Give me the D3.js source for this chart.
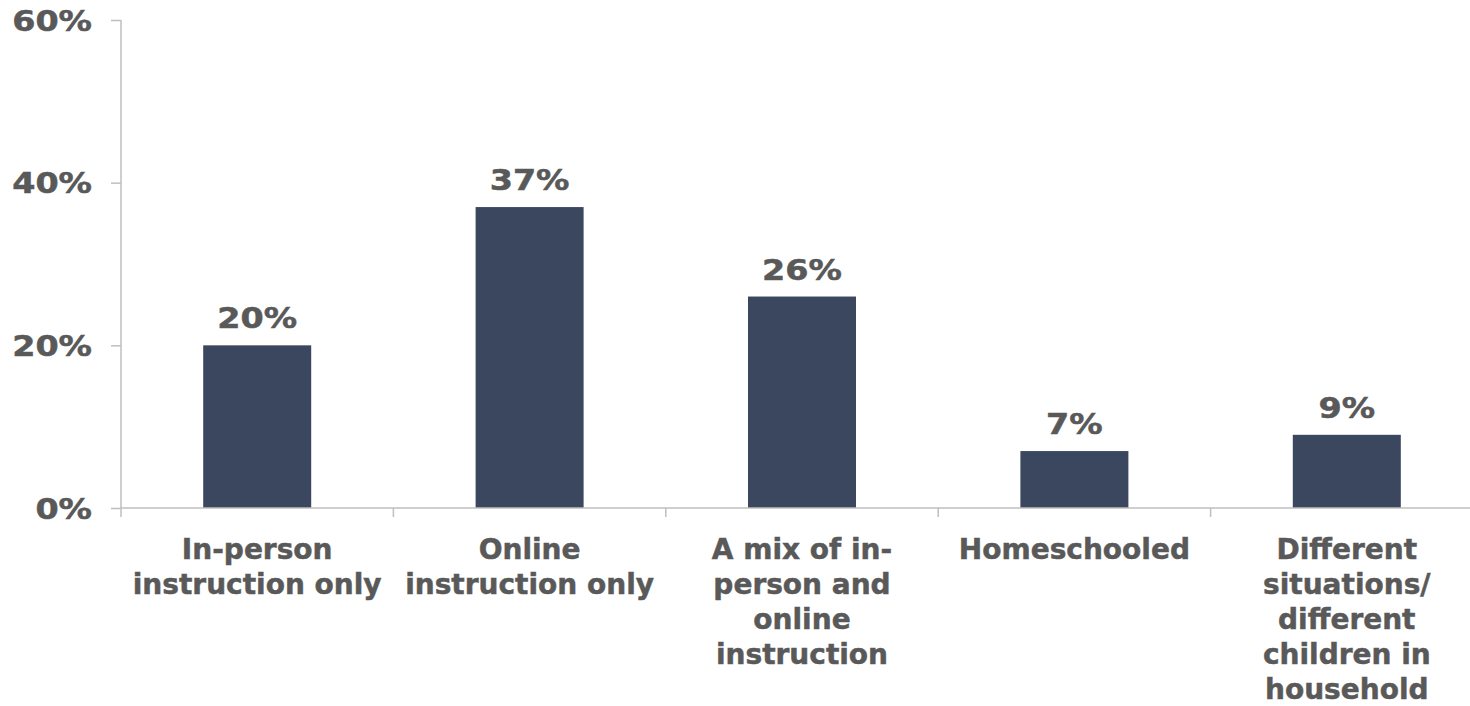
<!DOCTYPE html>
<html><head><meta charset="utf-8">
<script src="https://cdn.jsdelivr.net/npm/d3@7"></script>
<style>body{margin:0;background:#fff}svg{display:block}</style>
</head><body><svg id="c" width="1470" height="706"></svg>
<script>
const categories = ["In-person instruction only","Online instruction only","A mix of in-person and online instruction","Homeschooled","Different situations/ different children in household"];
const categoryLines = [["In-person","instruction only"],["Online","instruction only"],["A mix of in-","person and","online","instruction"],["Homeschooled"],["Different","situations/","different","children in","household"]];
const values = [20,37,26,7,9];
const yTicks = [0,20,40,60];

const svg = d3.select("#c");
const font = "'DejaVu Sans', Verdana, sans-serif";
const textColor = "#595959";
const x = d3.scaleBand().domain(categories).range([121, 121+5*272.4]).paddingInner(0).paddingOuter(0);
const y = d3.scaleLinear().domain([0,60]).range([508,20]);
const barW = 108;
const pctStretch = 1.19;

function heavy(sel){ sel.attr("stroke",textColor).attr("stroke-width",0.5); }
function stretch(sel){ sel.each(function(){ const w=this.getComputedTextLength(); d3.select(this).attr("textLength",w*pctStretch).attr("lengthAdjust","spacingAndGlyphs"); }); }

// y axis
const yAxis = svg.append("g").attr("transform","translate(121,0)")
  .call(d3.axisLeft(y).tickValues(yTicks).tickFormat(d=>d+"%").tickSize(10).tickPadding(19));
yAxis.select(".domain").attr("stroke","#bfbfbf").attr("stroke-width",1.5).attr("d","M0,"+y(60)+"V"+y(0));
yAxis.selectAll(".tick line").attr("stroke","#bfbfbf").attr("stroke-width",1.5);
yAxis.selectAll(".tick text").attr("font-family",font).attr("font-weight","bold").attr("font-size",28).attr("fill",textColor).attr("dy","0.36em").call(heavy).call(stretch);

// bars
svg.selectAll("rect.bar").data(values).join("rect").attr("class","bar")
  .attr("x",(d,i)=>x(categories[i])+x.bandwidth()/2-barW/2)
  .attr("width",barW)
  .attr("y",d=>y(d)).attr("height",d=>y(0)-y(d))
  .attr("fill","#3b465f");

// x axis
const xTickPos = d3.range(categories.length+1).map(i=>121+i*x.bandwidth());
svg.append("line").attr("x1",121).attr("x2",1470).attr("y1",y(0)).attr("y2",y(0)).attr("stroke","#bfbfbf").attr("stroke-width",1.5);
svg.selectAll("line.xt").data(xTickPos).join("line").attr("class","xt")
  .attr("x1",d=>d).attr("x2",d=>d).attr("y1",y(0)).attr("y2",y(0)+9).attr("stroke","#bfbfbf").attr("stroke-width",1.5);

// value labels
svg.selectAll("text.val").data(values).join("text").attr("class","val")
  .attr("x",(d,i)=>x(categories[i])+x.bandwidth()/2)
  .attr("y",d=>y(d)-17)
  .attr("text-anchor","middle").attr("font-family",font).attr("font-weight","bold").attr("font-size",28).attr("fill",textColor)
  .text(d=>d+"%").call(heavy).call(stretch);

// category labels
categories.forEach((c,i)=>{
  const t = svg.append("text").attr("text-anchor","middle").attr("font-family",font).attr("font-weight","bold").attr("font-size",28).attr("fill",textColor).call(heavy);
  categoryLines[i].forEach((ln,j)=>{
    t.append("tspan").attr("x",x(c)+x.bandwidth()/2).attr("y",559+j*35).text(ln);
  });
});
</script></body></html>
